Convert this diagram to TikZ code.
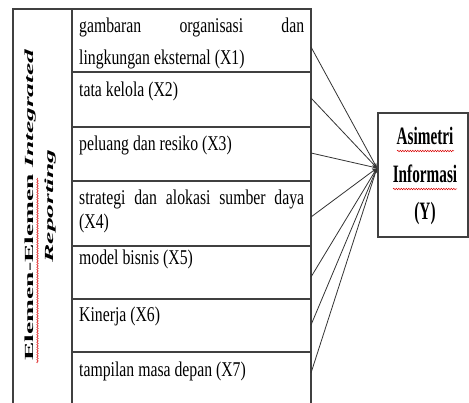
\documentclass[tikz,border=0pt]{standalone}
\usepackage{fontspec}
\setmainfont{Liberation Serif}
\newfontfamily\rowfont[FakeStretch=0.75]{Liberation Serif}
\newfontfamily\yfont[FakeStretch=0.61]{Liberation Serif}
\usetikzlibrary{arrows.meta,decorations.pathmorphing}
\begin{document}
\begin{tikzpicture}[x=1pt,y=-1pt,
  frame/.style={draw=black!75, line width=1.1pt},
  rowtext/.style={anchor=base west, inner sep=0pt, font=\rowfont\fontsize{21}{25}\selectfont, text=black},
  ytext/.style={anchor=base, inner sep=0pt, font=\yfont\bfseries\fontsize{25}{30}\selectfont, text=black},
  conn/.style={draw=black!80, line width=0.8pt, -{Stealth[length=5pt,width=3.5pt]}},
  spell/.style={draw=red!85!black, line width=0.5pt, decorate, decoration={snake, amplitude=0.7pt, segment length=2.5pt}}
]
\useasboundingbox (0,0) rectangle (469,403);
% table frame
\draw[frame] (13,403) -- (13,9) -- (311,9) -- (311,403);
\draw[frame] (72,9) -- (72,403);
\foreach \yy in {72,127,181,246,299,352} \draw[frame] (72,\yy) -- (311,\yy);
% row texts
\node[rowtext] (t1a) at (79,33) {\makebox[225pt][s]{gambaran organisasi dan}};
\node[rowtext] (t1b) at (79,65) {lingkungan eksternal (X1)};
\node[rowtext] (t2) at (79,97) {tata kelola (X2)};
\node[rowtext] (t3) at (79,151) {peluang dan resiko (X3)};
\node[rowtext] (t4a) at (79,205) {\makebox[225pt][s]{strategi dan alokasi sumber daya}};
\node[rowtext] (t4b) at (79,229) {(X4)};
\node[rowtext] (t5) at (79,265) {model bisnis (X5)};
\node[rowtext] (t6) at (79,322) {Kinerja (X6)};
\node[rowtext] (t7) at (79,377) {tampilan masa depan (X7)};
% rotated label
\node[rotate=90, anchor=base, inner sep=0pt] (lbl1) at (33,205)
  {\scalebox{1}[0.45]{\fontsize{27.5}{30}\selectfont\bfseries Elemen-Elemen \textit{Integrated}}};
\node[rotate=90, anchor=base, inner sep=0pt] (lbl2) at (53,206)
  {\scalebox{1}[0.45]{\fontsize{27.5}{30}\selectfont\bfseries\itshape Reporting}};
\draw[spell] (37.5,363) -- (37.5,178);
% Y box
\node[draw=black!75, line width=1.1pt, minimum width=90pt, minimum height=124pt, inner sep=0pt] (Y) at (423,175) {};
\node[ytext] (ya) at (425,145) {Asimetri};
\node[ytext] (yb) at (425,183) {Informasi};
\node[ytext] (yc) at (425,220) {(Y)};
\draw[spell] (397,151) -- (454,151);
\draw[spell] (393,189) -- (457,189);
% connectors
\coordinate (s1) at (311,47);
\coordinate (s2) at (311,98);
\coordinate (s3) at (311,153);
\coordinate (s4) at (311,217);
\coordinate (s5) at (311,277);
\coordinate (s6) at (311,325);
\coordinate (s7) at (311,373);
\coordinate (yin) at (377,168);
\foreach \i in {1,...,7} \draw[conn] (s\i) -- (yin);
\end{tikzpicture}
\end{document}
